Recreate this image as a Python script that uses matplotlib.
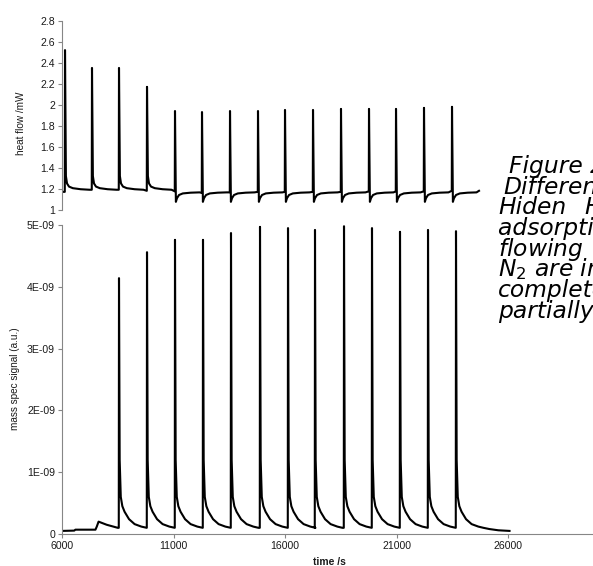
import numpy as np
import matplotlib
matplotlib.use('Agg')
import matplotlib.pyplot as plt

# heat flow trace (top panel), mW
hf_start_t = 6000
hf_start_v = 1.17
hf_spike_t = [6135, 7345, 8556, 9812, 11067, 12278, 13534, 14789, 16000, 17256, 18511, 19767, 20978, 22233, 23489]
hf_peak = [2.52, 2.35, 2.35, 2.17, 1.94, 1.93, 1.94, 1.94, 1.95, 1.95, 1.96, 1.96, 1.96, 1.97, 1.98]
hf_base = [1.17, 1.19, 1.19, 1.18, 1.175, 1.16, 1.165, 1.17, 1.17, 1.17, 1.17, 1.175, 1.175, 1.175, 1.18]
# decay after the first four injections, and after the later ones (with undershoot)
hf_tail_dt = [40, 90, 180, 350, 700, 1100]
hf_tail_a = [1.32, 1.25, 1.22, 1.205, 1.195, 1.19]
hf_tail_b = [1.075, 1.11, 1.14, 1.155, 1.162, 1.165]
hf_end_t = 24700
hf_end_v = 1.18

# mass spec trace (bottom panel), units of 1E-09
ms_pre_t = [6000, 6550, 6600, 7500, 7560, 7640, 8000, 8500]
ms_pre_v = [0.05, 0.055, 0.07, 0.07, 0.12, 0.20, 0.15, 0.10]
ms_spike_t = [8556, 9812, 11067, 12323, 13578, 14879, 16135, 17345, 18646, 19901, 21157, 22413, 23668]
ms_peak = [4.14, 4.56, 4.76, 4.76, 4.87, 4.97, 4.95, 4.92, 4.98, 4.95, 4.89, 4.92, 4.90]
ms_tail_dt = [30, 80, 150, 250, 450, 700, 1000, 1230]
ms_tail_v = [1.2, 0.6, 0.45, 0.36, 0.24, 0.16, 0.12, 0.10]
ms_end_dt = [1500, 1900, 2400]
ms_end_v = [0.08, 0.06, 0.05]

hf_ticks = [1, 1.2, 1.4, 1.6, 1.8, 2, 2.2, 2.4, 2.6, 2.8]
ms_ticks = [0, 1e-9, 2e-9, 3e-9, 4e-9, 5e-9]
ms_ticklabels = ['0', '1E-09', '2E-09', '3E-09', '4E-09', '5E-09']
t_ticks = [6000, 11000, 16000, 21000, 26000]

caption = [
    (509, 'Figure 2. Flow'),
    (503, 'Differential'),
    (498, 'Hiden'),
    (498, 'adsorption of'),
    (498, 'flowing  NH$_3$'),
    (498, 'N$_2$ are injected'),
    (498, 'completely'),
    (498, 'partially'),
]

# build traces
hx, hy = [hf_start_t], [hf_start_v]
for i, t in enumerate(hf_spike_t):
    hx += [t - 10, t]
    hy += [hf_base[i], hf_peak[i]]
    tail = hf_tail_a if i < 4 else hf_tail_b
    hx += [t + d for d in hf_tail_dt]
    hy += tail
hx.append(hf_end_t)
hy.append(hf_end_v)

mx, my = list(ms_pre_t), list(ms_pre_v)
for i, t in enumerate(ms_spike_t):
    mx += [t - 10, t]
    my += [ms_tail_v[-1], ms_peak[i]]
    mx += [t + d for d in ms_tail_dt]
    my += ms_tail_v
mx += [ms_spike_t[-1] + d for d in ms_end_dt]
my += ms_end_v
my = np.array(my) * 1e-9

W, H = 593, 566
fig = plt.figure(figsize=(W / 100, H / 100), dpi=100)
plt.rcParams['font.family'] = 'Liberation Sans'

grey = '#868686'
txt = '#1a1a1a'
x0 = 62
ax1 = fig.add_axes([x0 / W, 1 - 209.7 / H, (W - x0) / W, (209.7 - 20.7) / H])
ax2 = fig.add_axes([x0 / W, 1 - 534 / H, (W - x0) / W, (534 - 225) / H])

xmax = 6000 + (W - x0) / 0.0223

ax1.plot(hx, hy, color='black', lw=1.5)
ax1.set_xlim(6000, xmax)
ax1.set_ylim(1, 2.8)
ax1.set_yticks(hf_ticks)
ax1.set_yticklabels([f'{v:g}' for v in hf_ticks])
ax1.set_xticks([])
for s in ['top', 'right', 'bottom']:
    ax1.spines[s].set_visible(False)

ax2.plot(mx, my, color='black', lw=1.5)
ax2.set_xlim(6000, xmax)
ax2.set_ylim(0, 5e-9)
ax2.set_yticks(ms_ticks)
ax2.set_yticklabels(ms_ticklabels)
ax2.set_xticks(t_ticks)
ax2.set_xticklabels([str(t) for t in t_ticks])
for s in ['top', 'right']:
    ax2.spines[s].set_visible(False)

for ax in (ax1, ax2):
    for s in ax.spines.values():
        s.set_color(grey)
        s.set_linewidth(0.8)
    ax.tick_params(direction='out', length=3, width=0.8, color=grey,
                   labelsize=7.6, labelcolor=txt, pad=2)
    ax.patch.set_alpha(0)

fig.text(21 / W, 1 - 123 / H, 'heat flow /mW', rotation=90, ha='center', va='center',
         fontsize=7.2, color=txt)
fig.text(15 / W, 1 - 379 / H, 'mass spec signal (a.u.)', rotation=90, ha='center', va='center',
         fontsize=7.2, color=txt)
fig.text(329 / W, 1 - 562 / H, 'time /s', ha='center', va='center',
         fontsize=7.4, fontweight='bold', color=txt)

# caption text, cropped at the right edge
cap_kw = dict(ha='left', va='baseline', fontsize=16.8, family='DejaVu Sans',
              style='oblique', color='black')
for k, (xp, line) in enumerate(caption):
    yb = 173 + 20.7 * k
    fig.text(xp / W, 1 - yb / H, line, **cap_kw)
fig.text(584 / W, 1 - (173 + 20.7 * 2) / H, 'HPR-20', **cap_kw)

fig.savefig('out.png', dpi=100)
